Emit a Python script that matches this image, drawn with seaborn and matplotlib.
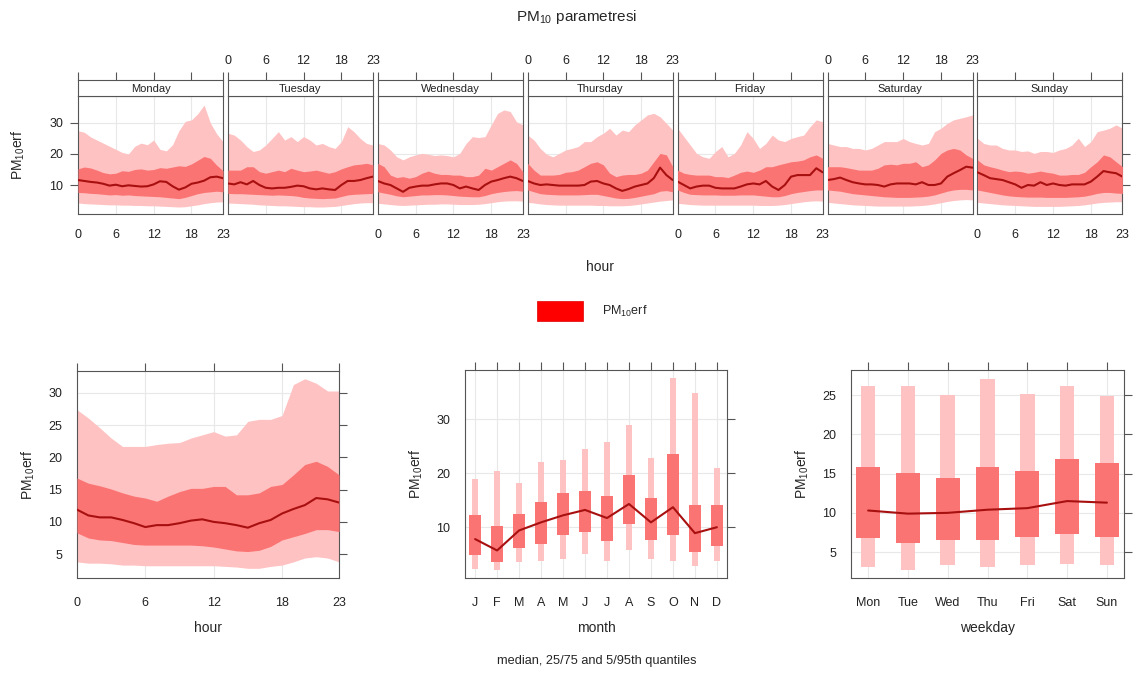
import numpy as np
import pandas as pd
import matplotlib
matplotlib.use("Agg")
import matplotlib.pyplot as plt
from matplotlib.patches import Rectangle
import seaborn as sns

days = ["Monday", "Tuesday", "Wednesday", "Thursday", "Friday", "Saturday", "Sunday"]
hours = list(range(24))

# diurnal profile for each weekday (median, 25/75, 5/95)
med_day = {
    "Monday": [11.6, 11.3, 11.0, 10.8, 10.4, 9.8, 10.1, 9.6, 9.9, 9.7, 9.5, 9.6, 10.2, 11.2, 11.0, 9.6, 8.5, 9.2, 10.4, 10.8, 11.4, 12.5, 12.7, 12.2],
    "Tuesday": [10.5, 10.2, 10.9, 10.2, 11.3, 10.0, 9.1, 8.9, 9.1, 9.1, 9.4, 9.8, 9.6, 8.9, 8.6, 8.9, 8.6, 8.4, 10.0, 11.3, 11.3, 11.6, 12.2, 12.7],
    "Wednesday": [11.3, 10.5, 10.0, 8.9, 7.8, 9.1, 9.5, 9.8, 9.8, 10.2, 10.5, 10.5, 10.0, 8.9, 9.5, 8.9, 8.4, 10.0, 11.1, 11.6, 12.2, 12.7, 12.2, 11.3],
    "Thursday": [11.3, 10.5, 10.0, 10.2, 10.0, 9.8, 9.8, 9.8, 9.8, 10.0, 11.1, 11.3, 10.5, 10.0, 8.9, 8.1, 8.7, 9.5, 10.0, 10.5, 12.2, 15.6, 13.2, 11.6],
    "Friday": [11.1, 10.0, 8.9, 9.5, 9.8, 9.8, 9.1, 8.9, 8.9, 8.9, 9.5, 10.2, 10.5, 10.2, 11.3, 9.5, 8.4, 10.0, 12.7, 13.2, 13.2, 13.2, 15.4, 14.1],
    "Saturday": [11.6, 11.9, 12.4, 11.6, 10.9, 10.5, 10.2, 10.2, 10.0, 9.5, 10.2, 10.5, 10.5, 10.5, 10.2, 10.9, 10.0, 10.0, 10.5, 12.7, 13.8, 14.8, 15.9, 15.6],
    "Sunday": [14.1, 13.2, 12.2, 11.9, 11.6, 10.9, 10.2, 9.1, 10.0, 9.8, 10.9, 10.0, 10.5, 10.0, 9.8, 10.2, 10.2, 10.2, 11.1, 12.7, 14.5, 14.1, 13.8, 12.7],
}
p25_day = {
    "Monday": [7.6, 7.5, 7.3, 7.2, 7.0, 6.8, 6.9, 6.7, 6.8, 6.6, 6.5, 6.4, 6.3, 6.2, 6.0, 5.8, 5.6, 6.0, 6.6, 7.2, 7.6, 7.8, 8.0, 7.8],
    "Tuesday": [7.3, 7.2, 7.2, 7.1, 7.0, 6.9, 6.8, 6.7, 6.8, 6.7, 6.6, 6.4, 6.0, 5.8, 5.7, 5.6, 5.7, 5.8, 6.3, 6.8, 7.0, 7.1, 7.2, 7.3],
    "Wednesday": [7.8, 7.4, 7.0, 6.5, 6.2, 6.4, 6.6, 6.8, 6.8, 6.9, 6.9, 6.8, 6.6, 6.4, 6.3, 6.2, 6.2, 6.6, 7.2, 7.6, 7.9, 8.1, 8.2, 8.0],
    "Thursday": [8.4, 7.8, 7.2, 7.0, 6.9, 6.8, 6.8, 6.8, 6.8, 6.9, 7.0, 7.0, 6.6, 6.2, 5.8, 5.6, 5.7, 6.0, 6.4, 6.8, 7.2, 8.0, 8.2, 7.8],
    "Friday": [8.4, 7.6, 7.0, 6.9, 6.8, 6.8, 6.8, 6.7, 6.7, 6.7, 6.8, 6.8, 6.8, 6.6, 6.4, 6.2, 6.2, 6.6, 7.2, 7.6, 7.9, 8.2, 8.4, 8.4],
    "Saturday": [8.4, 8.2, 8.0, 7.6, 7.2, 7.0, 6.8, 6.6, 6.4, 6.2, 6.1, 6.0, 6.0, 6.0, 6.1, 6.2, 6.4, 6.8, 7.4, 8.0, 8.4, 8.6, 8.6, 8.4],
    "Sunday": [8.4, 8.0, 7.6, 7.2, 6.8, 6.5, 6.3, 6.2, 6.1, 6.1, 6.1, 6.0, 6.0, 6.0, 6.0, 6.1, 6.2, 6.4, 6.8, 7.3, 7.6, 7.6, 7.4, 7.3],
}
p75_day = {
    "Monday": [15.2, 15.8, 15.5, 14.8, 14.0, 13.6, 13.8, 14.6, 14.4, 15.0, 15.2, 14.8, 15.0, 15.6, 15.4, 15.8, 16.2, 16.0, 16.8, 18.0, 19.2, 18.6, 16.4, 14.6],
    "Tuesday": [14.8, 14.8, 14.8, 15.9, 15.9, 14.3, 13.8, 14.3, 14.8, 14.3, 15.4, 14.8, 14.3, 14.5, 14.8, 14.3, 13.8, 14.3, 15.2, 15.9, 16.5, 16.7, 17.0, 16.5],
    "Wednesday": [17.0, 15.9, 13.2, 12.4, 12.7, 12.2, 12.7, 13.8, 14.5, 13.8, 13.4, 13.4, 13.2, 13.2, 12.7, 12.7, 13.2, 15.4, 14.8, 15.9, 17.0, 18.1, 17.0, 14.3],
    "Thursday": [17.0, 14.8, 13.2, 13.2, 13.2, 13.4, 14.1, 14.3, 14.8, 15.9, 17.0, 17.5, 16.5, 13.8, 12.7, 13.2, 13.4, 13.4, 13.8, 14.8, 17.5, 20.2, 19.7, 15.9],
    "Friday": [14.8, 13.8, 13.4, 13.2, 13.2, 13.2, 12.7, 12.7, 12.4, 13.2, 14.1, 14.5, 14.1, 14.8, 15.9, 15.9, 16.5, 17.0, 17.5, 17.7, 18.1, 19.1, 19.7, 18.6],
    "Saturday": [15.9, 15.9, 15.9, 15.6, 15.2, 14.8, 14.8, 14.8, 15.4, 16.5, 16.7, 16.5, 17.0, 17.0, 17.5, 15.9, 16.5, 18.1, 20.2, 21.3, 21.8, 21.3, 19.7, 18.6],
    "Sunday": [18.1, 16.5, 15.9, 15.4, 14.8, 14.3, 14.5, 14.3, 13.8, 14.1, 14.5, 14.1, 13.8, 13.2, 13.2, 13.4, 13.4, 14.1, 15.9, 17.5, 19.7, 19.1, 17.5, 15.9],
}
p5_day = {
    "Monday": [4.2, 4.0, 3.9, 3.8, 3.7, 3.6, 3.6, 3.5, 3.5, 3.4, 3.4, 3.3, 3.3, 3.2, 3.1, 3.0, 2.9, 3.0, 3.3, 3.6, 4.0, 4.3, 4.5, 4.6],
    "Tuesday": [4.2, 4.1, 4.0, 3.9, 3.8, 3.6, 3.5, 3.4, 3.3, 3.3, 3.2, 3.1, 3.0, 3.0, 2.9, 2.9, 3.0, 3.1, 3.4, 3.7, 4.0, 4.2, 4.3, 4.3],
    "Wednesday": [4.1, 3.9, 3.7, 3.5, 3.4, 3.5, 3.6, 3.7, 3.8, 3.8, 3.9, 3.9, 3.8, 3.7, 3.7, 3.7, 3.8, 4.0, 4.3, 4.6, 4.8, 4.9, 4.9, 4.8],
    "Thursday": [4.4, 4.2, 3.9, 3.7, 3.6, 3.5, 3.5, 3.5, 3.5, 3.5, 3.5, 3.4, 3.4, 3.3, 3.3, 3.3, 3.4, 3.6, 3.9, 4.2, 4.5, 4.8, 5.0, 5.2],
    "Friday": [4.1, 3.9, 3.7, 3.6, 3.5, 3.5, 3.5, 3.5, 3.5, 3.5, 3.5, 3.5, 3.5, 3.4, 3.4, 3.4, 3.5, 3.7, 4.0, 4.3, 4.6, 4.8, 4.9, 4.8],
    "Saturday": [4.4, 4.2, 4.0, 3.8, 3.6, 3.5, 3.4, 3.3, 3.2, 3.2, 3.2, 3.2, 3.2, 3.2, 3.3, 3.4, 3.6, 3.9, 4.3, 4.7, 5.0, 5.2, 5.3, 5.2],
    "Sunday": [4.4, 4.2, 4.0, 3.8, 3.6, 3.5, 3.4, 3.3, 3.2, 3.1, 3.1, 3.1, 3.1, 3.1, 3.2, 3.3, 3.4, 3.6, 3.9, 4.2, 4.4, 4.5, 4.6, 4.6],
}
p95_day = {
    "Monday": [27.5, 27.0, 25.5, 24.5, 23.5, 22.5, 21.5, 20.5, 20.0, 22.5, 23.5, 23.0, 24.5, 21.5, 21.0, 23.0, 27.5, 30.5, 31.0, 33.0, 35.8, 30.0, 26.5, 24.0],
    "Tuesday": [26.7, 26.1, 24.5, 22.4, 20.8, 21.3, 22.9, 25.0, 27.2, 24.5, 25.6, 24.0, 25.6, 24.5, 22.9, 23.4, 22.4, 21.8, 24.0, 28.8, 27.2, 25.0, 23.4, 22.9],
    "Wednesday": [23.4, 22.9, 21.3, 19.1, 18.1, 19.1, 19.7, 20.2, 19.9, 19.5, 19.7, 19.5, 19.1, 20.2, 23.4, 25.6, 25.3, 25.6, 29.4, 33.1, 34.2, 33.7, 30.4, 29.4],
    "Thursday": [26.1, 24.5, 21.8, 19.9, 19.1, 20.2, 21.3, 21.8, 22.4, 24.0, 24.0, 25.6, 26.7, 28.3, 26.1, 27.7, 27.2, 29.4, 31.0, 32.6, 33.1, 32.0, 29.9, 27.7],
    "Friday": [28.3, 25.6, 22.9, 20.2, 19.1, 18.6, 20.8, 22.4, 19.1, 20.2, 22.9, 27.2, 25.0, 21.8, 23.4, 26.1, 24.5, 24.0, 25.0, 25.6, 26.1, 28.8, 31.0, 30.4],
    "Saturday": [23.4, 22.9, 22.4, 22.4, 21.8, 21.8, 21.3, 21.8, 22.9, 24.0, 24.0, 24.0, 25.0, 24.0, 23.4, 22.9, 23.4, 27.2, 28.3, 29.9, 31.0, 31.5, 32.0, 32.6],
    "Sunday": [25.1, 23.4, 22.9, 22.9, 21.8, 21.3, 21.3, 20.8, 21.0, 20.2, 20.8, 20.8, 20.5, 21.3, 21.8, 22.9, 25.1, 22.4, 24.0, 27.2, 27.7, 28.3, 29.4, 28.3],
}

# all days together, by hour
hour_med = [11.9, 11.0, 10.7, 10.7, 10.3, 9.8, 9.2, 9.5, 9.5, 9.8, 10.2, 10.4, 10.0, 9.8, 9.5, 9.1, 9.8, 10.3, 11.3, 12.0, 12.6, 13.7, 13.5, 13.0]
hour_p25 = [8.3, 7.5, 7.2, 7.1, 6.8, 6.5, 6.4, 6.4, 6.4, 6.4, 6.4, 6.3, 6.1, 5.8, 5.5, 5.4, 5.6, 6.2, 7.2, 7.7, 8.2, 8.8, 8.8, 8.5]
hour_p75 = [16.8, 16.0, 15.6, 15.1, 14.5, 14.0, 13.7, 13.2, 14.0, 14.7, 15.2, 15.2, 15.5, 15.5, 14.2, 14.2, 14.5, 15.5, 15.8, 17.3, 18.9, 19.4, 18.6, 17.3]
hour_p5 = [3.8, 3.6, 3.6, 3.5, 3.3, 3.3, 3.2, 3.2, 3.2, 3.2, 3.2, 3.2, 3.2, 3.1, 3.0, 2.8, 2.8, 3.1, 3.3, 3.8, 4.4, 4.6, 4.4, 3.8]
hour_p95 = [27.4, 26.1, 24.6, 23.0, 21.7, 21.7, 21.7, 22.0, 22.2, 22.3, 23.0, 23.5, 24.0, 23.3, 23.5, 25.6, 25.9, 25.9, 26.5, 31.3, 32.2, 31.5, 30.3, 30.3]

months = ["J", "F", "M", "A", "M", "J", "J", "A", "S", "O", "N", "D"]
month_med = [7.8, 5.7, 9.4, 10.9, 12.2, 13.2, 11.7, 14.3, 10.9, 13.7, 8.9, 10.0]
month_p25 = [4.9, 3.5, 6.2, 6.9, 8.5, 9.1, 7.4, 10.6, 7.6, 8.5, 5.4, 6.6]
month_p75 = [12.3, 10.3, 12.5, 14.6, 16.3, 16.7, 15.7, 19.7, 15.4, 23.6, 14.2, 14.1]
month_p5 = [2.3, 2.0, 3.5, 3.7, 4.1, 5.0, 3.7, 5.7, 4.1, 3.7, 2.9, 3.7]
month_p95 = [19.0, 20.4, 18.2, 22.0, 22.5, 24.5, 25.8, 29.0, 22.8, 37.6, 34.8, 21.0]

wdays = ["Mon", "Tue", "Wed", "Thu", "Fri", "Sat", "Sun"]
wday_med = [10.3, 9.9, 10.0, 10.4, 10.6, 11.5, 11.3]
wday_p25 = [6.8, 6.1, 6.6, 6.5, 6.9, 7.3, 6.9]
wday_p75 = [15.8, 15.1, 14.4, 15.8, 15.3, 16.8, 16.4]
wday_p5 = [3.1, 2.7, 3.4, 3.1, 3.4, 3.5, 3.3]
wday_p95 = [26.1, 26.1, 25.0, 27.1, 25.1, 26.1, 24.9]

LIGHT = "#FFC2C2"
DARK = "#FB7474"
LINE = "#A81010"
FRAME = "#555555"
GRID = "#E8E8E8"

sns.set_theme(style="white")
plt.rcParams["font.family"] = ["Liberation Sans", "DejaVu Sans"]
plt.rcParams["mathtext.default"] = "regular"

W, H = 1138, 678
fig = plt.figure(figsize=(W / 100, H / 100), dpi=100)


def box(x0, y0, x1, y1):
    # pixel box (top-left origin) -> figure fraction
    return [x0 / W, 1 - y1 / H, (x1 - x0) / W, (y1 - y0) / H]


def style(ax):
    for s in ax.spines.values():
        s.set_color(FRAME)
        s.set_linewidth(0.8)
    ax.tick_params(direction="out", length=5.5, width=0.8, color=FRAME,
                   labelsize=9, labelcolor="#222222", pad=5)


ylab = "PM$_{10}$erf"

# ---- top: hour x weekday ----
for i, d in enumerate(days):
    x0 = 78 + 149.9 * i
    x1 = x0 + 145
    ax = fig.add_axes(box(x0, 96, x1, 214))
    df = pd.DataFrame({"hour": hours, "med": med_day[d], "p25": p25_day[d],
                       "p75": p75_day[d], "p5": p5_day[d], "p95": p95_day[d]})
    ax.fill_between(df["hour"], df["p5"], df["p95"], color=LIGHT, lw=0, zorder=2)
    ax.fill_between(df["hour"], df["p25"], df["p75"], color=DARK, lw=0, zorder=3)
    sns.lineplot(data=df, x="hour", y="med", color=LINE, lw=1.5, ax=ax, zorder=4)
    ax.set_xlim(0, 23)
    ax.set_ylim(0.65, 38.7)
    ax.set_xticks([0, 6, 12, 18, 23])
    ax.set_yticks([10, 20, 30])
    ax.grid(True, color=GRID, lw=0.8, zorder=0)
    ax.set_axisbelow(True)
    ax.set_xlabel("")
    ax.set_ylabel("")
    style(ax)
    ax.tick_params(axis="x", labelbottom=(i % 2 == 0))
    if i == 0:
        ax.tick_params(axis="y", left=True, labelleft=True)
    elif i == 6:
        ax.tick_params(axis="y", left=False, labelleft=False, right=True)
    else:
        ax.tick_params(axis="y", left=False, labelleft=False)

    sx = fig.add_axes(box(x0, 80, x1, 96))
    sx.set_xlim(0, 23)
    sx.set_ylim(0, 1)
    sx.set_yticks([])
    sx.set_xticks([0, 6, 12, 18, 23])
    sx.xaxis.tick_top()
    style(sx)
    sx.tick_params(axis="x", labeltop=(i % 2 == 1), bottom=False, labelbottom=False, pad=4)
    sx.text(11.5, 0.45, d, ha="center", va="center", fontsize=8, color="#222222")

fig.text(18 / W, 1 - 155 / H, ylab, rotation=90, ha="center", va="center", fontsize=10)
fig.text(600 / W, 1 - 267 / H, "hour", ha="center", va="center", fontsize=10)
fig.text(577 / W, 1 - 17 / H, "PM$_{10}$ parametresi", ha="center", va="center", fontsize=11)

# legend
fig.add_artist(Rectangle((537 / W, 1 - 321 / H), 46 / W, 20 / H, transform=fig.transFigure,
                         facecolor="#FF0000", edgecolor="#E00000", lw=0.5))
fig.text(602 / W, 1 - 311 / H, ylab, ha="left", va="center", fontsize=9)

# ---- bottom left: hour ----
ax = fig.add_axes(box(77, 371, 339, 578))
hdf = pd.DataFrame({"hour": hours, "med": hour_med, "p25": hour_p25, "p75": hour_p75,
                    "p5": hour_p5, "p95": hour_p95})
ax.fill_between(hdf["hour"], hdf["p5"], hdf["p95"], color=LIGHT, lw=0, zorder=2)
ax.fill_between(hdf["hour"], hdf["p25"], hdf["p75"], color=DARK, lw=0, zorder=3)
sns.lineplot(data=hdf, x="hour", y="med", color=LINE, lw=1.5, ax=ax, zorder=4)
ax.set_xlim(0, 23)
ax.set_ylim(1.3, 33.4)
ax.set_xticks([0, 6, 12, 18, 23])
ax.set_yticks([5, 10, 15, 20, 25, 30])
ax.grid(True, color=GRID, lw=0.8, zorder=0)
ax.set_axisbelow(True)
style(ax)
ax.tick_params(top=True, right=True)
ax.tick_params(axis="x", pad=8)
ax.set_xlabel("hour", fontsize=10, labelpad=9)
ax.set_ylabel(ylab, fontsize=10, labelpad=8)

# ---- bottom middle: month ----
ax = fig.add_axes(box(465, 370, 727, 578))
mx = np.arange(1, 13)
ax.bar(mx, np.array(month_p95) - np.array(month_p5), bottom=month_p5, width=0.28,
       color=LIGHT, lw=0, zorder=2)
ax.bar(mx, np.array(month_p75) - np.array(month_p25), bottom=month_p25, width=0.57,
       color=DARK, lw=0, zorder=3)
mdf = pd.DataFrame({"m": mx, "med": month_med})
sns.lineplot(data=mdf, x="m", y="med", color=LINE, lw=1.5, ax=ax, zorder=4)
ax.set_xlim(0.54, 12.46)
ax.set_ylim(0.6, 39.1)
ax.set_xticks(mx)
ax.set_xticklabels(months)
ax.set_yticks([10, 20, 30])
ax.grid(True, color=GRID, lw=0.8, zorder=0)
ax.set_axisbelow(True)
style(ax)
ax.tick_params(top=True, right=True)
ax.tick_params(axis="x", pad=8)
ax.set_xlabel("month", fontsize=10, labelpad=9)
ax.set_ylabel(ylab, fontsize=10, labelpad=8)

# ---- bottom right: weekday ----
ax = fig.add_axes(box(851, 370, 1124, 578))
wx = np.arange(1, 8)
ax.bar(wx, np.array(wday_p95) - np.array(wday_p5), bottom=wday_p5, width=0.37,
       color=LIGHT, lw=0, zorder=2)
ax.bar(wx, np.array(wday_p75) - np.array(wday_p25), bottom=wday_p25, width=0.6,
       color=DARK, lw=0, zorder=3)
wdf = pd.DataFrame({"w": wx, "med": wday_med})
sns.lineplot(data=wdf, x="w", y="med", color=LINE, lw=1.5, ax=ax, zorder=4)
ax.set_xlim(0.57, 7.43)
ax.set_ylim(1.7, 28.2)
ax.set_xticks(wx)
ax.set_xticklabels(wdays)
ax.set_yticks([5, 10, 15, 20, 25])
ax.grid(True, color=GRID, lw=0.8, zorder=0)
ax.set_axisbelow(True)
style(ax)
ax.tick_params(top=True, right=True)
ax.tick_params(axis="x", pad=8)
ax.set_xlabel("weekday", fontsize=10, labelpad=9)
ax.set_ylabel(ylab, fontsize=10, labelpad=8)

fig.text(597 / W, 1 - 661 / H, "median, 25/75 and 5/95th quantiles", ha="center",
         va="center", fontsize=9.2)

fig.savefig("out.png", dpi=100)
